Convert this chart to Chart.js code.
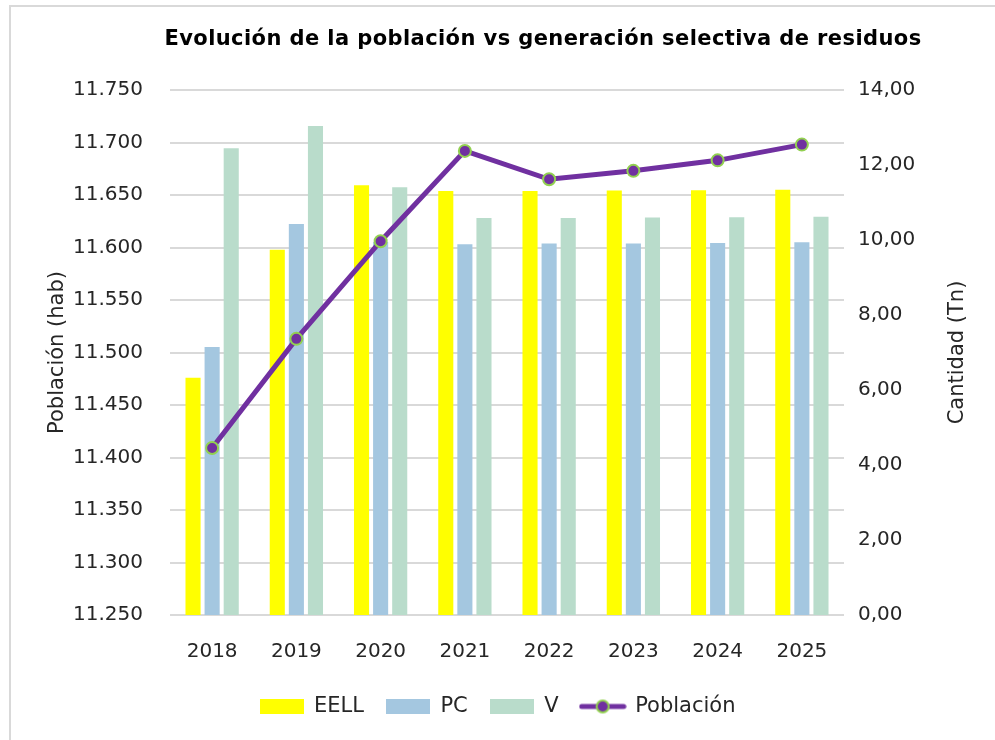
<!DOCTYPE html>
<html>
<head>
<meta charset="utf-8">
<script src="https://cdn.jsdelivr.net/npm/chart.js@4.4.1/dist/chart.umd.min.js"></script>
<style>
  html, body { margin: 0; padding: 0; background: #fff; }
  #contenedor { width: 995px; height: 740px; }
</style>
</head>
<body>
<div id="contenedor"><canvas id="grafico"></canvas></div>
<script>
// datos
const anios = ['2018', '2019', '2020', '2021', '2022', '2023', '2024', '2025'];
const eell = [6.33, 9.74, 11.46, 11.31, 11.31, 11.32, 11.33, 11.34];
const pc = [7.15, 10.43, 9.95, 9.89, 9.91, 9.91, 9.92, 9.94];
const vidrio = [12.45, 13.04, 11.41, 10.59, 10.59, 10.60, 10.61, 10.62];
const poblacion = [11409, 11513, 11606, 11692, 11665, 11673, 11683, 11698];

const fuente = "'DejaVu Sans', sans-serif";
const colorTexto = '#262626';
const titulo = 'Evolución de la población vs generación selectiva de residuos';

function cajaLeyenda(color) {
    const c = document.createElement('canvas');
    c.width = 44; c.height = 15;
    const g = c.getContext('2d');
    g.fillStyle = color;
    g.fillRect(0, 0, 44, 15);
    return c;
}

function lineaLeyenda() {
    const c = document.createElement('canvas');
    c.width = 48; c.height = 18;
    const g = c.getContext('2d');
    g.strokeStyle = '#7030A0';
    g.lineWidth = 5;
    g.lineCap = 'round';
    g.beginPath(); g.moveTo(3, 9); g.lineTo(45, 9); g.stroke();
    g.beginPath(); g.arc(24, 9, 6, 0, Math.PI * 2);
    g.fillStyle = '#7030A0'; g.fill();
    g.lineWidth = 2; g.strokeStyle = '#92D050'; g.stroke();
    return c;
}

const iconos = [cajaLeyenda('#FFFF00'), cajaLeyenda('#A4C7E0'), cajaLeyenda('#B9DCCB'), lineaLeyenda()];

// borde, titulo y titulos de ejes
const decorado = {
    id: 'decorado',
    beforeDraw: (chart) => {
        const ctx = chart.ctx;
        ctx.save();
        ctx.fillStyle = 'white';
        ctx.fillRect(0, 0, chart.width, chart.height);
        ctx.strokeStyle = '#d9d9d9';
        ctx.lineWidth = 2;
        ctx.beginPath();
        ctx.moveTo(10, chart.height);
        ctx.lineTo(10, 6);
        ctx.lineTo(chart.width, 6);
        ctx.stroke();
        ctx.restore();
    },
    afterDraw: (chart) => {
        const ctx = chart.ctx;
        const area = chart.chartArea;
        const medio = (area.top + area.bottom) / 2;
        ctx.save();
        ctx.fillStyle = '#000';
        // ajustar el tamaño para que ocupe lo mismo que en el original
        ctx.font = "bold 20px " + fuente;
        let ancho = ctx.measureText(titulo).width;
        let tam = Math.min(21, 20 * 757 / ancho);
        ctx.font = "bold " + tam.toFixed(1) + "px " + fuente;
        ancho = ctx.measureText(titulo).width;
        if (ancho < 757) ctx.letterSpacing = ((757 - ancho) / titulo.length).toFixed(2) + 'px';
        ctx.textAlign = 'center';
        ctx.textBaseline = 'middle';
        ctx.fillText(titulo, 543, 40);
        ctx.restore();

        ctx.save();
        ctx.fillStyle = colorTexto;
        ctx.font = "21px " + fuente;
        ctx.textAlign = 'center';
        ctx.textBaseline = 'middle';
        ctx.translate(58, medio);
        ctx.rotate(-Math.PI / 2);
        ctx.fillText('Población (hab)', 0, 0);
        ctx.restore();

        ctx.save();
        ctx.fillStyle = colorTexto;
        ctx.font = "21px " + fuente;
        ctx.textAlign = 'center';
        ctx.textBaseline = 'middle';
        ctx.translate(958, medio);
        ctx.rotate(-Math.PI / 2);
        ctx.fillText('Cantidad (Tn)', 0, 0);
        ctx.restore();
    }
};

const ctx = document.getElementById('grafico').getContext('2d');
const grafico = new Chart(ctx, {
    type: 'bar',
    data: {
        labels: anios,
        datasets: [{
            label: 'EELL',
            data: eell,
            yAxisID: 'y1',
            backgroundColor: '#FFFF00',
            order: 1
        }, {
            label: 'PC',
            data: pc,
            yAxisID: 'y1',
            backgroundColor: '#A4C7E0',
            order: 1
        }, {
            label: 'V',
            data: vidrio,
            yAxisID: 'y1',
            backgroundColor: '#B9DCCB',
            order: 1
        }, {
            type: 'line',
            label: 'Población',
            data: poblacion,
            yAxisID: 'y',
            borderColor: '#7030A0',
            borderWidth: 5,
            pointRadius: 6,
            pointBackgroundColor: '#7030A0',
            pointBorderColor: '#92D050',
            pointBorderWidth: 2,
            order: 0
        }]
    },
    options: {
        responsive: true,
        maintainAspectRatio: false,
        animation: false,
        categoryPercentage: 0.68,
        barPercentage: 0.79,
        layout: { padding: { top: 90, bottom: 13, left: 0, right: 0 } },
        plugins: {
            title: { display: false },
            tooltip: { enabled: false },
            legend: {
                position: 'bottom',
                labels: {
                    usePointStyle: true,
                    pointStyleWidth: 44,
                    padding: 22,
                    color: colorTexto,
                    font: { family: fuente, size: 21 },
                    sort: (a, b) => a.datasetIndex - b.datasetIndex,
                    generateLabels: (chart) => {
                        const items = Chart.defaults.plugins.legend.labels.generateLabels(chart);
                        items.forEach(it => { it.pointStyle = iconos[it.datasetIndex]; });
                        return items;
                    }
                }
            }
        },
        scales: {
            x: {
                grid: { display: false, drawTicks: false },
                border: { display: false },
                ticks: { color: colorTexto, font: { family: fuente, size: 20 }, padding: 25 },
                afterFit: (scale) => { scale.height = 59; }
            },
            y: {
                position: 'left',
                min: 11250,
                max: 11750,
                ticks: {
                    stepSize: 50,
                    padding: 27,
                    color: colorTexto,
                    font: { family: fuente, size: 20 },
                    callback: (v) => Math.floor(v / 1000) + '.' + String(v % 1000).padStart(3, '0')
                },
                grid: { color: '#d9d9d9', lineWidth: 2, drawTicks: false },
                border: { display: false },
                afterFit: (scale) => { scale.width = 170; }
            },
            y1: {
                position: 'right',
                min: 0,
                max: 14,
                ticks: {
                    stepSize: 2,
                    padding: 14,
                    color: colorTexto,
                    font: { family: fuente, size: 20 },
                    callback: (v) => v.toFixed(2).replace('.', ',')
                },
                grid: { display: false, drawTicks: false },
                border: { display: false },
                afterFit: (scale) => { scale.width = 151; }
            }
        }
    },
    plugins: [decorado]
});
</script>
</body>
</html>
